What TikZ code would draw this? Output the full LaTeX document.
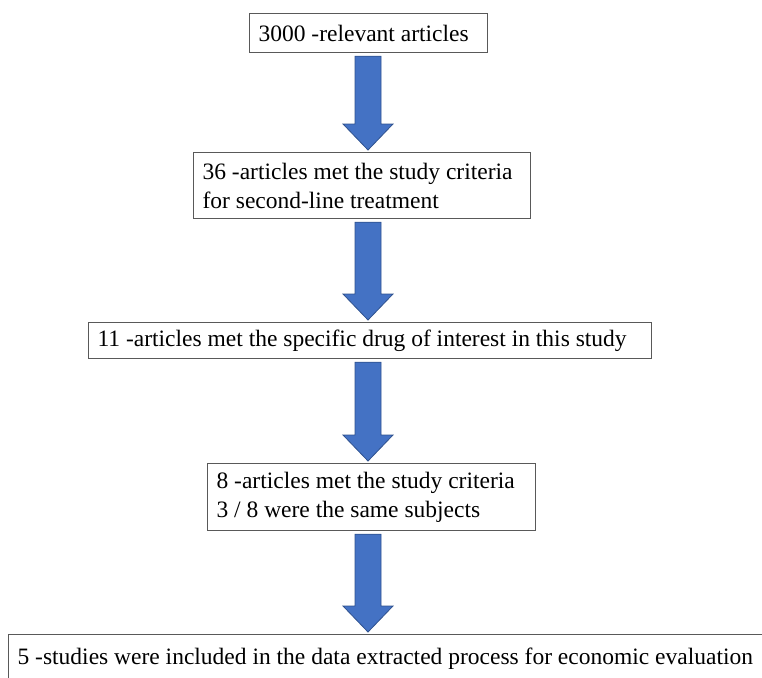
\documentclass[tikz,border=0pt]{standalone}
\usepackage{fontspec}
\setmainfont{Liberation Serif}
\usetikzlibrary{calc,positioning}

\definecolor{arrowblue}{HTML}{4472C4}
\definecolor{arrowedge}{HTML}{2F528F}

% block arrow from the bottom of box #1 to the top of box #2, along the axis (ax)
\newcommand{\blockarrow}[2]{%
  \draw[arrowedge, fill=arrowblue, line width=0.8pt]
    ($(#1.south -| ax)+(-13,-3)$) -- ($(#1.south -| ax)+(13,-3)$)
    -- ($(#2.north -| ax)+(13,28)$) -- ($(#2.north -| ax)+(25,28)$)
    -- ($(#2.north -| ax)+(0,2)$)
    -- ($(#2.north -| ax)+(-25,28)$) -- ($(#2.north -| ax)+(-13,28)$) -- cycle;}

\begin{document}
\begin{tikzpicture}[x=1pt,y=1pt]
        \tikzstyle{every node}=[font=\fontsize{23.5}{29}\selectfont]
        \tikzstyle{stagebox}=[draw=black!65, line width=1.2pt, anchor=north west, align=flush left, inner xsep=9pt, inner ysep=0pt]
        \useasboundingbox (0,0) rectangle (762,-677);
        \coordinate (ax) at (368,0);

        % relevant articles
        \node[stagebox, text width=220pt, minimum height=39pt] (relevant) at (249,-13) {3000 -relevant articles};

        % second-line treatment
        \node[stagebox, text width=319pt, minimum height=66pt] (secondline) at (193,-152) {36 -articles met the study criteria\\for second-line treatment};
        \blockarrow{relevant}{secondline}

        % specific drug
        \node[stagebox, text width=545pt, minimum height=36pt] (drug) at (88,-322) {11 -articles met the specific drug of interest in this study};
        \blockarrow{secondline}{drug}

        % study criteria
        \node[stagebox, text width=310pt, minimum height=67pt] (criteria) at (207,-463) {8 -articles met the study criteria\\3 / 8 were the same subjects};
        \blockarrow{drug}{criteria}

        % included studies
        \node[stagebox, text width=790pt, minimum height=60pt, text depth=16pt] (included) at (8,-634) {5 -studies were included in the data extracted process for economic evaluation};
        \blockarrow{criteria}{included}

    \end{tikzpicture}
\end{document}
